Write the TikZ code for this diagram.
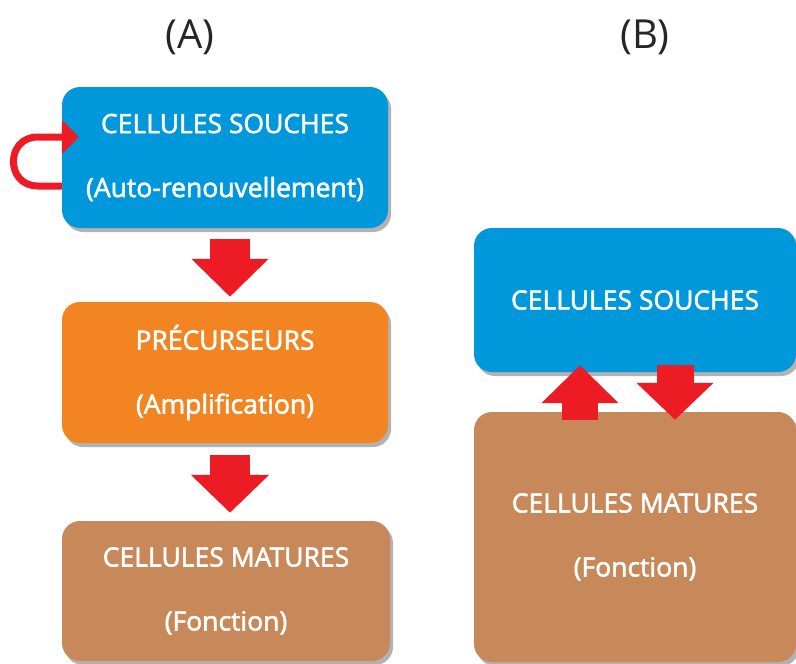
\documentclass[tikz,border=0pt]{standalone}
\usepackage{fontspec}
\setmainfont{Open Sans}
\newfontfamily\boxfont{Open Sans}[FakeBold=2]
\usetikzlibrary{arrows.meta,shadows}
\definecolor{cblue}{HTML}{0098DA}
\definecolor{corange}{HTML}{F28421}
\definecolor{cbrown}{HTML}{C8895A}
\definecolor{cred}{HTML}{ED1C24}
\tikzset{
  box/.style={rounded corners=18pt, fill=#1, draw=none, text=white, align=center,
    font=\boxfont\fontsize{26.5}{64}\selectfont, inner sep=0pt,
    drop shadow={shadow xshift=3pt, shadow yshift=-4pt, opacity=0.3, fill=black}},
  blockarrow/.style n args={3}{draw=cred, line width=#1,
    -{Triangle[length=#3, width=#2, fill=cred]}},
  panel/.style={font=\fontsize{40}{44}\selectfont, text=black!85}
}
\begin{document}
\begin{tikzpicture}[x=1pt,y=-1pt]
\useasboundingbox[fill=white] (0,0) rectangle (796,664);
% labels
\node[panel] (la) at (190,37) {(A)};
\node[panel] (lb) at (645,37) {(B)};
% panel A
\node[box=cblue, minimum width=326pt, minimum height=141pt] (sa) at (225,157.5)
  {CELLULES SOUCHES\\(Auto-renouvellement)};
\node[box=corange, minimum width=326pt, minimum height=141pt] (pa) at (225,372.5)
  {PRÉCURSEURS\\(Amplification)};
\node[box=cbrown, minimum width=328pt, minimum height=140pt] (ma) at (226,591)
  {CELLULES MATURES\\(Fonction)};
% panel B
\node[box=cblue, minimum width=322pt, minimum height=144pt] (sb) at (635,300)
  {CELLULES SOUCHES};
\node[box=cbrown, minimum width=322pt, minimum height=250pt] (mb) at (635,537)
  {CELLULES MATURES\\(Fonction)};
% arrows A
\draw[blockarrow={40pt}{75pt}{38pt}, shorten <=11pt, shorten >=5pt]
  ([xshift=5pt]sa.south) -- ([xshift=5pt]pa.north);
\draw[blockarrow={40pt}{76pt}{38pt}, shorten <=12pt, shorten >=8pt]
  ([xshift=5pt]pa.south) -- ([xshift=4pt]ma.north);
% self-renewal loop
\coordinate (ltip) at ([xshift=17pt,yshift=20.5pt]sa.west);
\draw[draw=cred, line width=7pt, -{Triangle[length=17pt,width=33pt,fill=cred]}]
  ([yshift=-28.5pt]sa.west) -- ++(-24,0)
  to[out=180,in=180,looseness=1.7] ++(0,-49) -- (ltip);
% arrows B
\draw[blockarrow={36pt}{75pt}{38pt}, shorten <=-8pt, shorten >=-7pt]
  ([xshift=-55pt]mb.north) -- ([xshift=-55pt]sb.south);
\draw[blockarrow={37pt}{75pt}{37pt}, shorten <=-7pt, shorten >=-8pt]
  ([xshift=40pt]sb.south) -- ([xshift=40pt]mb.north);
\end{tikzpicture}
\end{document}
